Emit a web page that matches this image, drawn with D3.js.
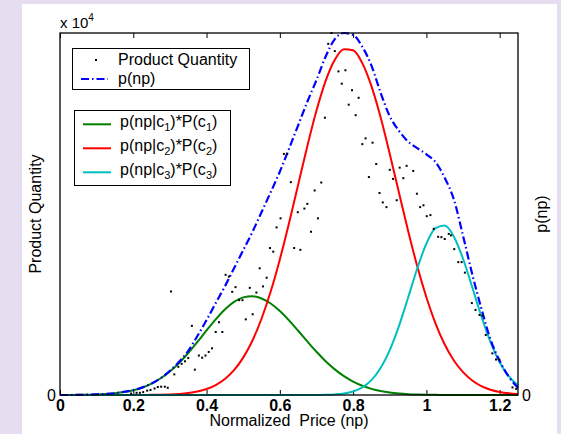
<!DOCTYPE html>
<html>
<head>
<meta charset="utf-8">
<script src="https://cdn.jsdelivr.net/npm/d3@7"></script>
<style>
    body { margin: 0; background: #e6ddf1; }
    text { font-family: "Liberation Sans", Arial, sans-serif; fill: black; }
    .tick text { font-size: 16px; font-weight: bold; }
    .label { font-size: 16px; }
    .legendText { font-size: 16px; }
</style>
</head>
<body>
<div id="chart"></div>
<script>
//Data - normalized price grid and curve values
const priceGrid = [0, 0.025, 0.05, 0.075, 0.1, 0.125, 0.15, 0.175, 0.2, 0.225, 0.25, 0.275, 0.3, 0.325, 0.35, 0.375,
    0.4, 0.425, 0.45, 0.475, 0.5, 0.525, 0.55, 0.575, 0.6, 0.625, 0.65, 0.675, 0.7, 0.725, 0.75, 0.775,
    0.8, 0.825, 0.85, 0.875, 0.9, 0.925, 0.95, 0.975, 1.0, 1.025, 1.05, 1.075, 1.1, 1.125, 1.15, 1.175,
    1.2, 1.225, 1.25];

const class1 = [0.0001, 0.0002, 0.0004, 0.0008, 0.0015, 0.0027, 0.0048, 0.0081, 0.0132, 0.0208, 0.0316, 0.0462, 0.0652, 0.0886, 0.1161, 0.1466,
    0.1783, 0.2090, 0.2362, 0.2571, 0.2697, 0.2730, 0.2667, 0.2527, 0.2319, 0.2061, 0.1774, 0.1479, 0.1194, 0.0934, 0.0708, 0.0520,
    0.0369, 0.0254, 0.0170, 0.0110, 0.0069, 0.0042, 0.0024, 0.0014, 0.0008, 0.0004, 0.0002, 0.0001, 0, 0, 0, 0,
    0, 0, 0];

const class2 = [0, 0, 0, 0, 0, 0, 0, 0, 0.0001, 0.0002, 0.0004, 0.0008, 0.0015, 0.0029, 0.0053, 0.0095,
    0.0164, 0.0274, 0.0441, 0.0686, 0.1032, 0.1499, 0.2106, 0.2857, 0.3746, 0.4746, 0.5811, 0.6874, 0.7857, 0.8679, 0.9264, 0.9554,
    0.9521, 0.9168, 0.8532, 0.7671, 0.6660, 0.5596, 0.4539, 0.3558, 0.2700, 0.1973, 0.1395, 0.0953, 0.0630, 0.0402, 0.0248, 0.0147,
    0.0085, 0.0047, 0.0025];

const class3 = [0, 0, 0, 0, 0, 0, 0, 0, 0, 0, 0, 0, 0, 0, 0, 0,
    0, 0, 0, 0, 0, 0, 0, 0, 0, 0, 0, 0, 0.0002, 0.0006, 0.0017, 0.0042,
    0.0098, 0.0210, 0.0412, 0.0745, 0.1241, 0.1903, 0.2688, 0.3494, 0.4183, 0.4611, 0.4680, 0.4374, 0.3764, 0.2982, 0.2175, 0.1462,
    0.0903, 0.0515, 0.0270];

const pnp = [0, 0, 0.0005, 0.001, 0.002, 0.003, 0.005, 0.009, 0.0135, 0.021, 0.032, 0.047, 0.067, 0.092, 0.122, 0.163,
    0.207, 0.254, 0.30, 0.35, 0.40, 0.45, 0.505, 0.56, 0.617, 0.68, 0.745, 0.81, 0.87, 0.935, 0.983, 1.0,
    0.995, 0.962, 0.91, 0.835, 0.77, 0.73, 0.70, 0.682, 0.665, 0.643, 0.60, 0.54, 0.44, 0.334, 0.239, 0.153,
    0.094, 0.05, 0.02];

//Product quantity scatter (x = normalized price, y = quantity, scaled x 10^4 units)
const dotX = [0.194, 0.209, 0.218, 0.227, 0.238, 0.247, 0.258, 0.267, 0.276, 0.286, 0.294, 0.303, 0.312, 0.323, 0.332, 0.341,
    0.350, 0.360, 0.368, 0.379, 0.388, 0.397, 0.406, 0.415, 0.425, 0.434, 0.443, 0.452, 0.461, 0.470, 0.479, 0.489,
    0.498, 0.507, 0.518, 0.526, 0.536, 0.545, 0.554, 0.564, 0.573, 0.582, 0.591, 0.602, 0.611, 0.620, 0.630, 0.639,
    0.649, 0.656, 0.667, 0.675, 0.685, 0.695, 0.704, 0.713, 0.723, 0.732, 0.741, 0.750, 0.760, 0.769, 0.779, 0.788,
    0.797, 0.807, 0.815, 0.825, 0.834, 0.853, 0.863, 0.843, 0.872, 0.881, 0.891, 0.900, 0.909, 0.919, 0.927, 0.937,
    0.946, 0.964, 0.974, 0.983, 0.992, 1.001, 1.011, 1.020, 1.032, 1.041, 1.050, 1.061, 1.067, 1.076, 1.087, 1.096,
    1.105, 1.124, 1.134, 1.145, 1.153, 1.162, 1.180, 1.190, 1.199, 1.235, 1.245];

const dotY = [0.004, 0.006, 0.006, 0.008, 0.012, 0.014, 0.018, 0.022, 0.023, 0.023, 0.020, 0.286, 0.057, 0.078, 0.086, 0.093,
    0.102, 0.191, 0.070, 0.109, 0.103, 0.109, 0.119, 0.129, 0.174, 0.201, 0.174, 0.332, 0.327, 0.285, 0.298, 0.262,
    0.262, 0.209, 0.296, 0.223, 0.283, 0.350, 0.300, 0.324, 0.406, 0.396, 0.463, 0.488, 0.666, 0.666, 0.588, 0.406,
    0.505, 0.401, 0.515, 0.528, 0.451, 0.565, 0.488, 0.587, 0.766, 0.970, 1.000, 0.950, 0.894, 0.860, 0.897, 0.802,
    0.842, 0.773, 0.821, 0.693, 0.709, 0.697, 0.638, 0.602, 0.558, 0.532, 0.519, 0.622, 0.597, 0.538, 0.628, 0.599,
    0.633, 0.619, 0.556, 0.519, 0.524, 0.494, 0.497, 0.459, 0.437, 0.436, 0.431, 0.445, 0.441, 0.403, 0.367, 0.367,
    0.338, 0.254, 0.235, 0.221, 0.219, 0.166, 0.115, 0.098, 0.098, 0.021, 0.017];

const xTicks = [0, 0.2, 0.4, 0.6, 0.8, 1, 1.2];
const classIds = ["1", "2", "3"];

//Layout
const width = 561;
const height = 434;
const plotLeft = 60, plotRight = 518, plotTop = 33, plotBottom = 395;
const classColors = ["#008000", "#ff0000", "#00bfbf"];

const svg = d3.select("#chart")
    .append("svg")
    .attr("width", width)
    .attr("height", height)
    .style("display", "block");

//Lavender background and white figure panel
svg.append("rect")
    .attr("width", width)
    .attr("height", height)
    .attr("fill", "#e6ddf1");

svg.append("rect")
    .attr("x", 22)
    .attr("y", 4)
    .attr("width", 535)
    .attr("height", 430)
    .attr("fill", "white");

//Scales - left axis for quantity, right axis for p(np)
const xScale = d3.scaleLinear()
    .domain([0, 1.25])
    .range([plotLeft, plotRight]);

const yScaleQty = d3.scaleLinear()
    .domain([0, 1])
    .range([plotBottom, plotTop]);

const yScaleP = d3.scaleLinear()
    .domain([0, 1])
    .range([plotBottom, plotTop]);

//Axes with inward ticks
svg.append("g")
    .attr("class", "axis")
    .attr("transform", "translate(0," + plotBottom + ")")
    .call(d3.axisBottom(xScale)
        .tickValues(xTicks)
        .tickFormat(d3.format("~g"))
        .tickSizeInner(-5)
        .tickSizeOuter(0)
        .tickPadding(5))
    .call(g => g.select(".domain").remove());

svg.append("g")
    .attr("class", "axis")
    .attr("transform", "translate(0," + plotTop + ")")
    .call(d3.axisTop(xScale)
        .tickValues(xTicks)
        .tickFormat("")
        .tickSizeInner(-5)
        .tickSizeOuter(0))
    .call(g => g.select(".domain").remove());

//Left and right zero labels
svg.append("text")
    .attr("class", "label")
    .attr("x", plotLeft - 4)
    .attr("y", yScaleQty(0))
    .attr("dy", "0.36em")
    .attr("text-anchor", "end")
    .text("0");

svg.append("text")
    .attr("class", "label")
    .attr("x", plotRight + 4)
    .attr("y", yScaleP(0))
    .attr("dy", "0.36em")
    .text("0");

//Line generator over the price grid
const lineFor = function(values) {
    return d3.line()
        .x((d, i) => xScale(priceGrid[i]))
        .y(d => yScaleP(d))
        .curve(d3.curveMonotoneX)(values);
};

//Class curves
[class1, class2, class3].forEach((values, i) => {
    svg.append("path")
        .attr("d", lineFor(values))
        .attr("fill", "none")
        .attr("stroke", classColors[i])
        .attr("stroke-width", 2);
});

//p(np) dash-dot
svg.append("path")
    .attr("d", lineFor(pnp))
    .attr("fill", "none")
    .attr("stroke", "#0000ff")
    .attr("stroke-width", 2.2)
    .attr("stroke-dasharray", "8,3,1.5,3");

//Scatter dots
svg.append("g")
    .selectAll("rect")
    .data(dotX)
    .enter()
    .append("rect")
    .attr("x", d => xScale(d) - 1)
    .attr("y", (d, i) => yScaleQty(dotY[i]) - 1)
    .attr("width", 2)
    .attr("height", 2)
    .attr("fill", "black");

//Plot frame
svg.append("rect")
    .attr("x", plotLeft)
    .attr("y", plotTop)
    .attr("width", plotRight - plotLeft)
    .attr("height", plotBottom - plotTop)
    .attr("fill", "none")
    .attr("stroke", "black")
    .attr("stroke-width", 1.3);

//Axis labels
svg.append("text")
    .attr("class", "label")
    .attr("x", (plotLeft + plotRight) / 2)
    .attr("y", 426)
    .attr("text-anchor", "middle")
    .attr("xml:space", "preserve")
    .text("Normalized  Price (np)");

svg.append("text")
    .attr("class", "label")
    .attr("transform", "translate(41," + (plotTop + plotBottom) / 2 + ") rotate(-90)")
    .attr("text-anchor", "middle")
    .text("Product Quantity");

svg.append("text")
    .attr("class", "label")
    .attr("transform", "translate(547," + (plotTop + plotBottom) / 2 + ") rotate(-90)")
    .attr("text-anchor", "middle")
    .text("p(np)");

//Exponent label
const expo = svg.append("text")
    .attr("x", plotLeft)
    .attr("y", 28)
    .style("font-size", "15px");
expo.append("tspan").text("x 10");
expo.append("tspan")
    .attr("dy", -7)
    .style("font-size", "10px")
    .text("4");

//Legend 1 - data and total density
svg.append("rect")
    .attr("x", 72.5)
    .attr("y", 48.5)
    .attr("width", 177)
    .attr("height", 41)
    .attr("fill", "white")
    .attr("stroke", "black");

svg.append("rect")
    .attr("x", 95)
    .attr("y", 59)
    .attr("width", 2)
    .attr("height", 2)
    .attr("fill", "black");

svg.append("text")
    .attr("class", "legendText")
    .attr("x", 118)
    .attr("y", 65)
    .text("Product Quantity");

svg.append("line")
    .attr("x1", 81)
    .attr("x2", 108)
    .attr("y1", 79)
    .attr("y2", 79)
    .attr("stroke", "#0000ff")
    .attr("stroke-width", 2.2)
    .attr("stroke-dasharray", "8,3,1.5,3");

svg.append("text")
    .attr("class", "legendText")
    .attr("x", 118)
    .attr("y", 84)
    .text("p(np)");

//Legend 2 - weighted class densities
svg.append("rect")
    .attr("x", 74.5)
    .attr("y", 110.5)
    .attr("width", 156)
    .attr("height", 75)
    .attr("fill", "white")
    .attr("stroke", "black");

classIds.forEach((c, i) => {
    const ly = 124.3 + i * 24;
    svg.append("line")
        .attr("x1", 83)
        .attr("x2", 111)
        .attr("y1", ly)
        .attr("y2", ly)
        .attr("stroke", classColors[i])
        .attr("stroke-width", 2);

    const t = svg.append("text")
        .attr("class", "legendText")
        .attr("x", 120)
        .attr("y", ly + 3);
    t.append("tspan").text("p(np|c");
    t.append("tspan").attr("dy", 4).style("font-size", "11px").text(c);
    t.append("tspan").attr("dy", -4).text(")*P(c");
    t.append("tspan").attr("dy", 4).style("font-size", "11px").text(c);
    t.append("tspan").attr("dy", -4).text(")");
});
</script>
</body>
</html>
